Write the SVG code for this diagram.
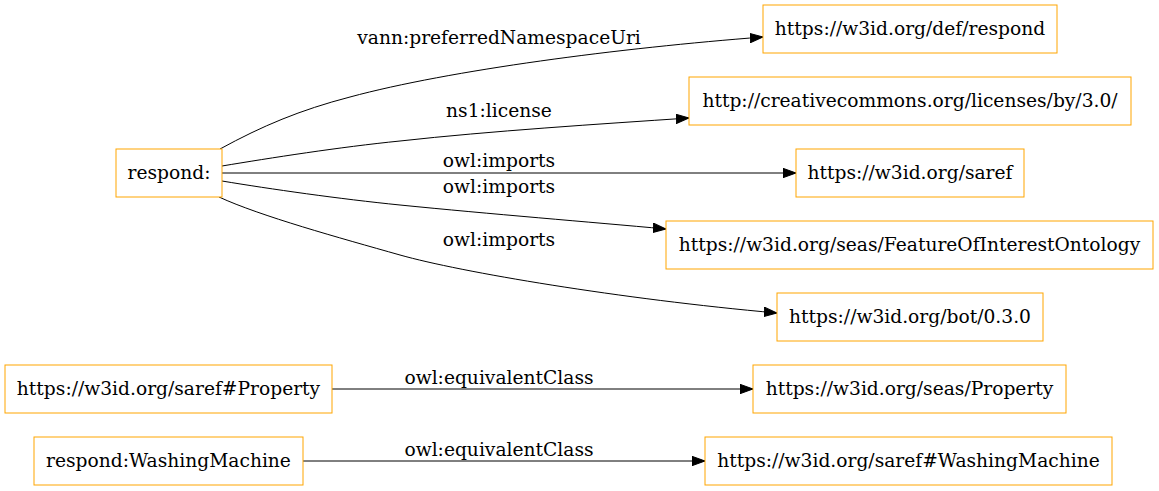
<svg xmlns="http://www.w3.org/2000/svg" width="1159" height="491" viewBox="0 0 1159 491">
<defs>
<style>
.node rect{fill:#fff;stroke:#ffa500;stroke-width:1}
text{font-family:"DejaVu Serif","Liberation Serif",serif;font-size:18.67px;fill:#000}
.node text{text-anchor:middle}
.edges path{fill:none;stroke:#000;stroke-width:1}
.lbl{text-anchor:middle}
</style>
<marker id="ah" markerWidth="13" markerHeight="10" refX="13" refY="4.7" orient="auto" markerUnits="userSpaceOnUse">
<path d="M0,0 L13,4.7 L0,9.4 Z" fill="#000" stroke="#000" stroke-width="1"/>
</marker>
</defs>
<rect width="1159" height="491" fill="#fff"/>
<g class="edges">
<path marker-end="url(#ah)" d="M220,149 C262,126 300,110 350,97 C450,70 620,48 763,37"/>
<path marker-end="url(#ah)" d="M222,166 C270,158 340,147 400,141 C490,131 600,124 689,118"/>
<path marker-end="url(#ah)" d="M222,173 L796,173"/>
<path marker-end="url(#ah)" d="M222,181 C270,189 340,199 400,205 C490,214 590,222 666,229"/>
<path marker-end="url(#ah)" d="M219,197 C260,216 340,238 400,255 C460,272 620,299 777,313"/>
<path marker-end="url(#ah)" d="M332,389 L753,389"/>
<path marker-end="url(#ah)" d="M303,461 L705,461"/>
<text class="lbl" x="499" y="44">vann:preferredNamespaceUri</text>
<text class="lbl" x="499" y="117">ns1:license</text>
<text class="lbl" x="499" y="167">owl:imports</text>
<text class="lbl" x="499" y="193">owl:imports</text>
<text class="lbl" x="499" y="246">owl:imports</text>
<text class="lbl" x="499" y="384">owl:equivalentClass</text>
<text class="lbl" x="499" y="456">owl:equivalentClass</text>
</g>
<g class="node" id="respond"><rect x="116" y="149" width="106" height="48"/><text x="169" y="179">respond:</text></g>
<g class="node" id="def_respond"><rect x="763" y="5" width="294" height="48"/><text x="910" y="35">https://w3id.org/def/respond</text></g>
<g class="node" id="cc"><rect x="689" y="77" width="442" height="48"/><text x="910" y="107">http://creativecommons.org/licenses/by/3.0/</text></g>
<g class="node" id="saref"><rect x="796" y="149" width="228" height="48"/><text x="910" y="179">https://w3id.org/saref</text></g>
<g class="node" id="foi"><rect x="666" y="221" width="487" height="48"/><text x="909.5" y="251">https://w3id.org/seas/FeatureOfInterestOntology</text></g>
<g class="node" id="bot"><rect x="777" y="293" width="266" height="48"/><text x="910" y="323">https://w3id.org/bot/0.3.0</text></g>
<g class="node" id="saref_property"><rect x="5" y="365" width="327" height="48"/><text x="168.5" y="395">https://w3id.org/saref#Property</text></g>
<g class="node" id="seas_property"><rect x="753" y="365" width="313" height="48"/><text x="909.5" y="395">https://w3id.org/seas/Property</text></g>
<g class="node" id="washing"><rect x="34" y="437" width="269" height="48"/><text x="168.5" y="467">respond:WashingMachine</text></g>
<g class="node" id="saref_washing"><rect x="705" y="437" width="407" height="48"/><text x="908.5" y="467">https://w3id.org/saref#WashingMachine</text></g>
</svg>
